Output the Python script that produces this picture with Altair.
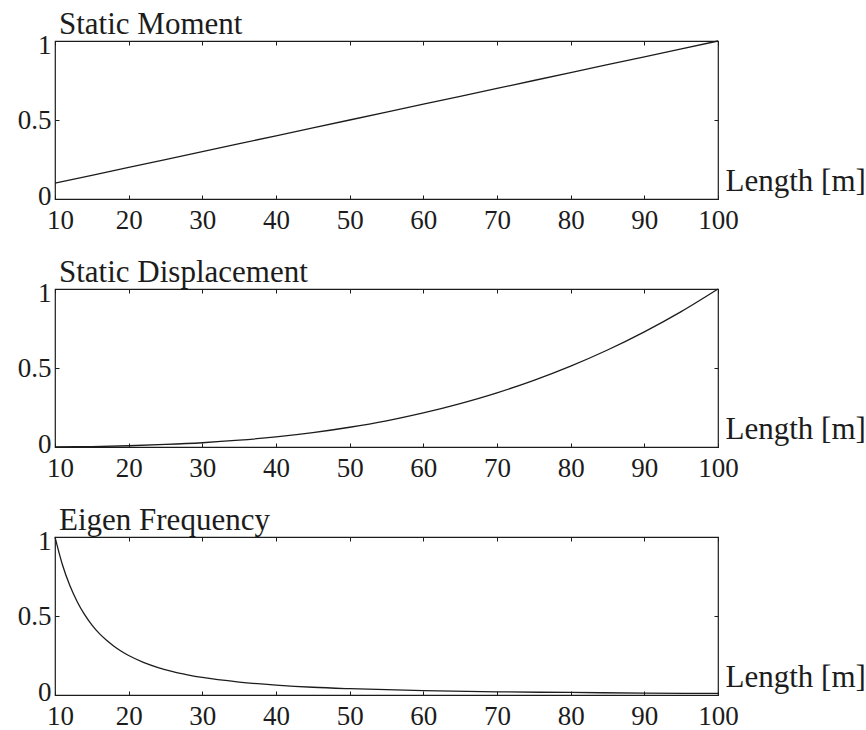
import altair as alt
import pandas as pd

# Shared tick positions
length_ticks = [10, 20, 30, 40, 50, 60, 70, 80, 90, 100]
value_ticks = [0, 0.5, 1]

# Static moment (normalised)
moment_len = [10, 20, 30, 40, 50, 60, 70, 80, 90, 100]
moment_val = [0.10, 0.20, 0.30, 0.40, 0.50, 0.60, 0.70, 0.80, 0.90, 1.00]

# Static displacement (normalised)
disp_len = [10, 15, 20, 25, 30, 35, 40, 45, 50, 55, 60, 65, 70, 75, 80, 85, 90, 95, 100]
disp_val = [0.001, 0.003, 0.008, 0.016, 0.027, 0.043, 0.064, 0.091, 0.125, 0.166,
            0.216, 0.275, 0.343, 0.422, 0.512, 0.614, 0.729, 0.857, 1.000]

# Eigen frequency (normalised)
freq_len = [10, 11, 12, 13, 14, 15, 16, 17, 18, 19, 20, 22, 24, 26, 28, 30, 35, 40,
            45, 50, 60, 70, 80, 90, 100]
freq_val = [1.000, 0.826, 0.694, 0.592, 0.510, 0.444, 0.390, 0.346, 0.309, 0.277,
            0.250, 0.207, 0.174, 0.148, 0.128, 0.111, 0.082, 0.063, 0.049, 0.040,
            0.028, 0.020, 0.016, 0.012, 0.010]

panel_titles = ["Static Moment", "Static Displacement", "Eigen Frequency"]

FONT = "Liberation Serif"
INK = "#1c1c1c"
W, H = 663, 158
TICK = 4


def panel(title, lengths, values):
    df = pd.DataFrame({"Length": lengths, "Value": values})
    xs = alt.Scale(domain=[10, 100], nice=False, zero=False)
    ys = alt.Scale(domain=[0, 1], nice=False, zero=False)
    base = alt.Chart(df)

    curve = base.mark_line(color=INK, strokeWidth=1.3, interpolate="monotone").encode(
        x=alt.X(
            "Length:Q", scale=xs,
            axis=alt.Axis(
                orient="bottom", values=length_ticks, format="d",
                domain=False, grid=False, offset=-TICK, tickSize=TICK,
                tickColor=INK, tickWidth=1,
                labelFont=FONT, labelFontSize=27, labelColor=INK,
                labelPadding=8, labelFlush=False,
                labelOffset={"condition": {"test": "datum.value == 10", "value": 5},
                             "value": 0},
                title="Length [m]", titleFont=FONT, titleFontSize=31,
                titleFontWeight="normal", titleColor=INK,
                titleX=W + 7, titleY=-5, titleAlign="left",
                titleBaseline="alphabetic", titleAngle=0,
            ),
        ),
        y=alt.Y(
            "Value:Q", scale=ys,
            axis=alt.Axis(
                orient="left", values=value_ticks, format="~g",
                domain=False, grid=False, offset=-TICK, tickSize=TICK,
                tickColor=INK, tickWidth=1,
                labelFont=FONT, labelFontSize=27, labelColor=INK,
                labelPadding=4, labelFlush=False,
                labelOffset={"condition": [{"test": "datum.value == 1", "value": 4},
                                           {"test": "datum.value == 0", "value": -3}],
                             "value": 0},
                title=None,
            ),
        ),
    )

    # second set of axes for the inward ticks on the top and right edges
    mirror = base.mark_line(opacity=0).encode(
        x=alt.X(
            "Length:Q", scale=xs,
            axis=alt.Axis(orient="top", values=length_ticks, labels=False,
                          domain=False, grid=False, offset=-TICK, tickSize=TICK,
                          tickColor=INK, tickWidth=1, title=None),
        ),
        y=alt.Y(
            "Value:Q", scale=ys,
            axis=alt.Axis(orient="right", values=value_ticks, labels=False,
                          domain=False, grid=False, offset=-TICK, tickSize=TICK,
                          tickColor=INK, tickWidth=1, title=None),
        ),
    )

    # panel heading above the frame's upper-left corner
    heading = alt.Chart(pd.DataFrame({"label": [title]})).mark_text(
        font=FONT, fontSize=31, color=INK, align="left", baseline="alphabetic",
    ).encode(text="label:N", x=alt.value(4), y=alt.value(-7))

    return (
        alt.layer(curve, mirror, heading)
        .resolve_axis(x="independent", y="independent")
        .properties(width=W, height=H)
    )


chart = (
    alt.vconcat(
        *[panel(t, l, v) for t, l, v in zip(
            panel_titles,
            [moment_len, disp_len, freq_len],
            [moment_val, disp_val, freq_val],
        )],
        spacing=90,
        bounds="flush",
    )
    .properties(padding={"left": 16, "top": 8, "right": 0, "bottom": 0},
                background="white")
    .configure_view(stroke=INK, strokeWidth=1.2)
)

chart.save("out.html", embed_options={"renderer": "svg", "actions": False})
